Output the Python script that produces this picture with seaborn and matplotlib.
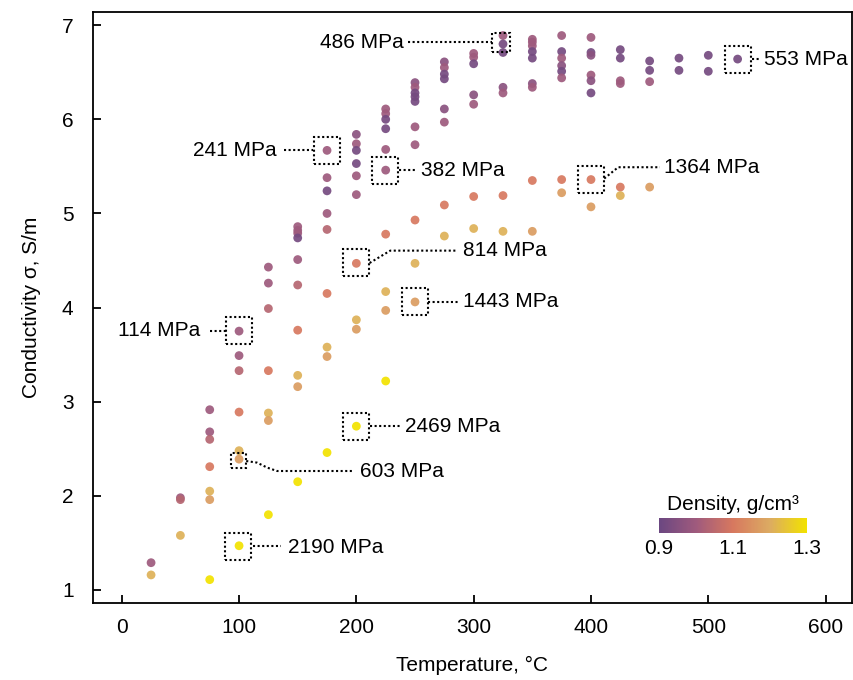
import matplotlib
matplotlib.use("Agg")
import matplotlib.pyplot as plt
from matplotlib.colors import LinearSegmentedColormap, Normalize
from matplotlib.cm import ScalarMappable
from matplotlib.patches import Rectangle
import pandas as pd
import seaborn as sns

# ---------------- data ----------------
density_of = {"P": 0.92, "PP": 0.96, "K": 1.00, "KC": 1.04, "C": 1.10,
              "O": 1.17, "T": 1.21, "Y": 1.30}

temperature = (
    [25] * 2 + [50] * 3 + [75] * 7 + [100] * 7 + [125] * 7 + [150] * 10 +
    [175] * 9 + [200] * 10 + [225] * 10 + [250] * 10 + [275] * 8 + [300] * 7 +
    [325] * 7 + [350] * 9 + [375] * 8 + [400] * 8 + [425] * 6 + [450] * 4 +
    [475] * 2 + [500] * 2 + [525] * 1
)
conductivity = [
    1.29, 1.16,
    1.98, 1.96, 1.58,
    2.915, 2.68, 2.60, 2.31, 2.05, 1.96, 1.11,
    3.75, 3.49, 3.33, 2.89, 2.48, 2.39, 1.47,
    4.43, 4.26, 3.99, 3.33, 2.88, 2.80, 1.80,
    4.86, 4.82, 4.79, 4.74, 4.51, 4.24, 3.76, 3.28, 3.16, 2.15,
    5.67, 5.38, 5.24, 5.00, 4.83, 4.15, 3.58, 3.48, 2.46,
    5.84, 5.74, 5.67, 5.53, 5.40, 5.20, 4.47, 3.87, 3.77, 2.74,
    6.11, 6.06, 6.00, 5.90, 5.68, 5.46, 4.78, 4.17, 3.97, 3.22,
    6.39, 6.34, 6.28, 6.24, 6.19, 5.92, 5.73, 4.93, 4.47, 4.06,
    6.61, 6.55, 6.48, 6.43, 6.11, 5.97, 5.09, 4.76,
    6.70, 6.66, 6.59, 6.26, 6.16, 5.18, 4.84,
    6.89, 6.80, 6.71, 6.34, 6.28, 5.19, 4.81,
    6.85, 6.82, 6.78, 6.72, 6.65, 6.38, 6.34, 5.35, 4.81,
    6.89, 6.72, 6.65, 6.57, 6.51, 6.44, 5.36, 5.22,
    6.87, 6.71, 6.68, 6.47, 6.41, 6.28, 5.36, 5.07,
    6.74, 6.65, 6.41, 6.38, 5.28, 5.19,
    6.62, 6.52, 6.40, 5.28,
    6.65, 6.52,
    6.68, 6.51,
    6.64,
]
density_code = [
    "K", "T",
    "K", "KC", "T",
    "K", "K", "KC", "C", "T", "O", "Y",
    "K", "K", "KC", "C", "T", "O", "Y",
    "K", "K", "KC", "C", "T", "O", "Y",
    "K", "K", "K", "P", "K", "KC", "C", "T", "O", "Y",
    "K", "K", "P", "K", "KC", "C", "T", "O", "Y",
    "PP", "K", "P", "P", "K", "K", "C", "T", "O", "Y",
    "K", "K", "P", "P", "K", "K", "C", "T", "O", "Y",
    "PP", "K", "P", "P", "P", "K", "K", "C", "T", "O",
    "PP", "K", "P", "P", "PP", "K", "C", "T",
    "K", "K", "P", "PP", "K", "C", "T",
    "K", "P", "P", "PP", "K", "C", "T",
    "K", "K", "K", "P", "P", "PP", "K", "C", "O",
    "K", "P", "K", "PP", "P", "K", "C", "O",
    "K", "P", "PP", "K", "PP", "P", "C", "O",
    "P", "P", "K", "K", "C", "T",
    "P", "P", "K", "O",
    "P", "P",
    "P", "P",
    "P",
]

x_ticks = [0, 100, 200, 300, 400, 500, 600]
y_ticks = [1, 2, 3, 4, 5, 6, 7]
cbar_ticks = [0.9, 1.1, 1.3]

# annotations: label, target point (T, sigma)
ann_labels = ["486 MPa", "553 MPa", "241 MPa", "382 MPa", "1364 MPa", "814 MPa",
              "1443 MPa", "114 MPa", "2469 MPa", "603 MPa", "2190 MPa"]
ann_points = [(323.3, 6.817), (525.4, 6.64), (175.0, 5.67), (224.5, 5.459),
              (399.7, 5.361), (199.7, 4.474), (250.0, 4.063), (100.3, 3.753),
              (199.7, 2.742), (99.4, 2.372), (99.4, 1.467)]

# ---------------- layout / style ----------------
df = pd.DataFrame({
    "Temperature": temperature,
    "Conductivity": conductivity,
    "Density": [density_of[c] for c in density_code],
})

cmap = LinearSegmentedColormap.from_list(
    "dens", ["#6b4781", "#9f5a7d", "#d7785f", "#dcab62", "#f2e200"])
norm = Normalize(0.9, 1.3)

sns.set_style("ticks")
plt.rcParams["font.family"] = ["Liberation Sans", "DejaVu Sans"]
plt.rcParams["text.color"] = "black"
plt.rcParams["axes.labelcolor"] = "black"
plt.rcParams["xtick.color"] = "black"
plt.rcParams["ytick.color"] = "black"
FS = 15

fig = plt.figure(figsize=(8.54, 6.80), dpi=100)
ax = fig.add_axes([93 / 854, 1 - 602.7 / 680, (852 - 93) / 854, (602.7 - 12) / 680])

sns.scatterplot(data=df, x="Temperature", y="Conductivity", hue="Density",
                palette=cmap, hue_norm=norm, legend=False, s=40,
                linewidth=0, alpha=0.92, ax=ax, zorder=3)

ax.set_xlim(-24.5, 622.5)
ax.set_ylim(0.865, 7.14)
ax.set_xticks(x_ticks)
ax.set_yticks(y_ticks)
ax.tick_params(direction="in", length=6, width=1.3, labelsize=FS,
               color="black", labelcolor="black")
ax.tick_params(axis="x", pad=11)
ax.tick_params(axis="y", pad=14)
for sp in ax.spines.values():
    sp.set_visible(True)
    sp.set_linewidth(1.3)
    sp.set_color("black")
ax.set_xlabel("Temperature, °C", fontsize=FS, labelpad=14, color="black")
ax.set_ylabel("Conductivity σ, S/m", fontsize=FS, labelpad=15, color="black")

# ---------------- annotations ----------------
dx = 1 / 1.173   # data units per pixel (x)
dy = 1 / 94.1    # data units per pixel (y)
box_px = {"486 MPa": (18, 19), "603 MPa": (15, 15)}
text_pos = {  # (x, y, ha)
    "486 MPa": (240.7, 6.82, "right"),
    "553 MPa": (547.6, 6.64, "left"),
    "241 MPa": (132.2, 5.67, "right"),
    "382 MPa": (254.9, 5.459, "left"),
    "1364 MPa": (462.3, 5.491, "left"),
    "814 MPa": (291.2, 4.605, "left"),
    "1443 MPa": (291.2, 4.063, "left"),
    "114 MPa": (66.7, 3.753, "right"),
    "2469 MPa": (241.5, 2.742, "left"),
    "603 MPa": (203.2, 2.264, "left"),
    "2190 MPa": (141.8, 1.455, "left"),
}
leaders = {
    "486 MPa": [(244.3, 6.82), (315.8, 6.82)],
    "553 MPa": [(537.0, 6.64), (543.5, 6.64)],
    "241 MPa": [(138.6, 5.67), (163.0, 5.67)],
    "382 MPa": [(236.7, 5.459), (250.0, 5.459)],
    "1364 MPa": [(411.3, 5.371), (423.2, 5.491), (458.8, 5.491)],
    "814 MPa": [(211.3, 4.474), (228.9, 4.605), (285.7, 4.605)],
    "1443 MPa": [(261.4, 4.063), (287.0, 4.063)],
    "114 MPa": [(75.3, 3.753), (88.9, 3.753)],
    "2469 MPa": [(211.7, 2.742), (237.3, 2.742)],
    "603 MPa": [(106.1, 2.37), (115.3, 2.353), (124.0, 2.30), (132.4, 2.264), (196.3, 2.264)],
    "2190 MPa": [(112.0, 1.467), (136.0, 1.467)],
}
for lab, (px, py) in zip(ann_labels, ann_points):
    wpx, hpx = box_px.get(lab, (26, 27))
    w, h = wpx * dx, hpx * dy
    ax.add_patch(Rectangle((px - w / 2, py - h / 2), w, h, fill=False,
                           ec="black", lw=1.5, ls=(0, (1, 1.2)), zorder=4))
    xs, ys = zip(*leaders[lab])
    ax.plot(xs, ys, color="black", lw=1.5, ls=(0, (1, 1.2)), zorder=4)
    tx, ty, ha = text_pos[lab]
    ax.text(tx, ty, lab, ha=ha, va="center", fontsize=FS, color="black", zorder=5)

# ---------------- colorbar ----------------
cax = fig.add_axes([659 / 854, 1 - 533.3 / 680, (806.7 - 659) / 854, 15 / 680])
cb = fig.colorbar(ScalarMappable(norm=norm, cmap=cmap), cax=cax,
                  orientation="horizontal")
cb.outline.set_visible(False)
cb.set_ticks(cbar_ticks)
cb.set_ticklabels(["0.9", "1.1", "1.3"])
cax.tick_params(length=0, labelsize=FS, pad=4, labelcolor="black")
cax.set_title("Density, g/cm³", fontsize=FS, pad=6, color="black")

fig.savefig("out.png", dpi=100)
